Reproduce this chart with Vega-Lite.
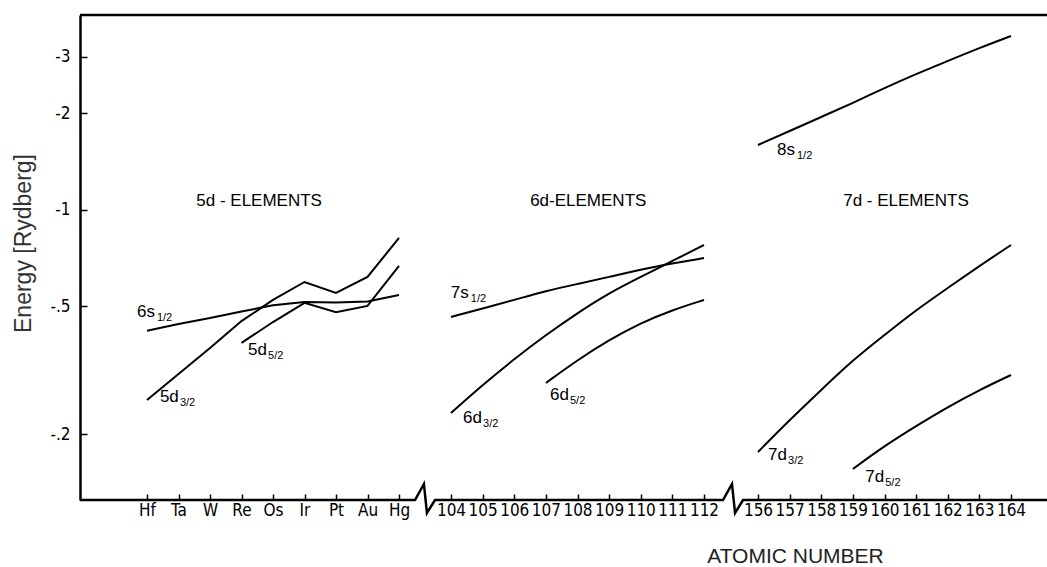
{
  "$schema": "https://vega.github.io/schema/vega-lite/v6.json",
  "width": 967,
  "height": 485,
  "autosize": {"type": "none"},
  "padding": {"left": 80, "top": 15, "right": 0, "bottom": 67},
  "background": "white",
  "config": {"view": {"stroke": null}, "font": "Liberation Sans"},
  "datasets": {
    "curves": [
      {"series": "6s1/2", "group": "5d", "Z": 72, "E": 0.420},
      {"series": "6s1/2", "group": "5d", "Z": 73, "E": 0.441},
      {"series": "6s1/2", "group": "5d", "Z": 74, "E": 0.460},
      {"series": "6s1/2", "group": "5d", "Z": 75, "E": 0.482},
      {"series": "6s1/2", "group": "5d", "Z": 76, "E": 0.504},
      {"series": "6s1/2", "group": "5d", "Z": 77, "E": 0.516},
      {"series": "6s1/2", "group": "5d", "Z": 78, "E": 0.514},
      {"series": "6s1/2", "group": "5d", "Z": 79, "E": 0.518},
      {"series": "6s1/2", "group": "5d", "Z": 80, "E": 0.543},
      {"series": "5d3/2", "group": "5d", "Z": 72, "E": 0.2554},
      {"series": "5d3/2", "group": "5d", "Z": 73, "E": 0.3078},
      {"series": "5d3/2", "group": "5d", "Z": 74, "E": 0.371},
      {"series": "5d3/2", "group": "5d", "Z": 75, "E": 0.450},
      {"series": "5d3/2", "group": "5d", "Z": 76, "E": 0.524},
      {"series": "5d3/2", "group": "5d", "Z": 77, "E": 0.596},
      {"series": "5d3/2", "group": "5d", "Z": 78, "E": 0.551},
      {"series": "5d3/2", "group": "5d", "Z": 79, "E": 0.618},
      {"series": "5d3/2", "group": "5d", "Z": 80, "E": 0.818},
      {"series": "5d5/2", "group": "5d", "Z": 75, "E": 0.385},
      {"series": "5d5/2", "group": "5d", "Z": 76, "E": 0.447},
      {"series": "5d5/2", "group": "5d", "Z": 77, "E": 0.513},
      {"series": "5d5/2", "group": "5d", "Z": 78, "E": 0.480},
      {"series": "5d5/2", "group": "5d", "Z": 79, "E": 0.502},
      {"series": "5d5/2", "group": "5d", "Z": 80, "E": 0.669},
      {"series": "7s1/2", "group": "6d", "Z": 104, "E": 0.4636},
      {"series": "7s1/2", "group": "6d", "Z": 105, "E": 0.4928},
      {"series": "7s1/2", "group": "6d", "Z": 106, "E": 0.5238},
      {"series": "7s1/2", "group": "6d", "Z": 107, "E": 0.5587},
      {"series": "7s1/2", "group": "6d", "Z": 108, "E": 0.5875},
      {"series": "7s1/2", "group": "6d", "Z": 109, "E": 0.618},
      {"series": "7s1/2", "group": "6d", "Z": 110, "E": 0.652},
      {"series": "7s1/2", "group": "6d", "Z": 111, "E": 0.681},
      {"series": "7s1/2", "group": "6d", "Z": 112, "E": 0.708},
      {"series": "6d3/2", "group": "6d", "Z": 104, "E": 0.2326},
      {"series": "6d3/2", "group": "6d", "Z": 105, "E": 0.2844},
      {"series": "6d3/2", "group": "6d", "Z": 106, "E": 0.3428},
      {"series": "6d3/2", "group": "6d", "Z": 107, "E": 0.4074},
      {"series": "6d3/2", "group": "6d", "Z": 108, "E": 0.477},
      {"series": "6d3/2", "group": "6d", "Z": 109, "E": 0.5508},
      {"series": "6d3/2", "group": "6d", "Z": 110, "E": 0.618},
      {"series": "6d3/2", "group": "6d", "Z": 111, "E": 0.693},
      {"series": "6d3/2", "group": "6d", "Z": 112, "E": 0.7774},
      {"series": "6d5/2", "group": "6d", "Z": 107, "E": 0.2886},
      {"series": "6d5/2", "group": "6d", "Z": 108, "E": 0.3404},
      {"series": "6d5/2", "group": "6d", "Z": 109, "E": 0.3930},
      {"series": "6d5/2", "group": "6d", "Z": 110, "E": 0.4441},
      {"series": "6d5/2", "group": "6d", "Z": 111, "E": 0.4875},
      {"series": "6d5/2", "group": "6d", "Z": 112, "E": 0.5238},
      {"series": "8s1/2", "group": "7d", "Z": 156, "E": 1.594},
      {"series": "8s1/2", "group": "7d", "Z": 157, "E": 1.763},
      {"series": "8s1/2", "group": "7d", "Z": 158, "E": 1.950},
      {"series": "8s1/2", "group": "7d", "Z": 159, "E": 2.156},
      {"series": "8s1/2", "group": "7d", "Z": 160, "E": 2.401},
      {"series": "8s1/2", "group": "7d", "Z": 161, "E": 2.656},
      {"series": "8s1/2", "group": "7d", "Z": 162, "E": 2.915},
      {"series": "8s1/2", "group": "7d", "Z": 163, "E": 3.201},
      {"series": "8s1/2", "group": "7d", "Z": 164, "E": 3.488},
      {"series": "7d3/2", "group": "7d", "Z": 156, "E": 0.1758},
      {"series": "7d3/2", "group": "7d", "Z": 157, "E": 0.2213},
      {"series": "7d3/2", "group": "7d", "Z": 158, "E": 0.2745},
      {"series": "7d3/2", "group": "7d", "Z": 159, "E": 0.3404},
      {"series": "7d3/2", "group": "7d", "Z": 160, "E": 0.4074},
      {"series": "7d3/2", "group": "7d", "Z": 161, "E": 0.4875},
      {"series": "7d3/2", "group": "7d", "Z": 162, "E": 0.5709},
      {"series": "7d3/2", "group": "7d", "Z": 163, "E": 0.6687},
      {"series": "7d3/2", "group": "7d", "Z": 164, "E": 0.7774},
      {"series": "7d5/2", "group": "7d", "Z": 159, "E": 0.1556},
      {"series": "7d5/2", "group": "7d", "Z": 160, "E": 0.1836},
      {"series": "7d5/2", "group": "7d", "Z": 161, "E": 0.2119},
      {"series": "7d5/2", "group": "7d", "Z": 162, "E": 0.2429},
      {"series": "7d5/2", "group": "7d", "Z": 163, "E": 0.2745},
      {"series": "7d5/2", "group": "7d", "Z": 164, "E": 0.3056}
    ],
    "labels": [
      {"Z": 71.68, "E": 0.4636, "main": "6s", "sub": "1/2"},
      {"Z": 72.41, "E": 0.2518, "main": "5d", "sub": "3/2"},
      {"Z": 75.21, "E": 0.3528, "main": "5d", "sub": "5/2"},
      {"Z": 103.91, "E": 0.5315, "main": "7s", "sub": "1/2"},
      {"Z": 104.38, "E": 0.2165, "main": "6d", "sub": "3/2"},
      {"Z": 107.13, "E": 0.2554, "main": "6d", "sub": "5/2"},
      {"Z": 156.6, "E": 1.484, "main": "8s", "sub": "1/2"},
      {"Z": 156.32, "E": 0.166, "main": "7d", "sub": "3/2"},
      {"Z": 159.39, "E": 0.1417, "main": "7d", "sub": "5/2"}
    ],
    "groups": [
      {"Z": 75.56, "E": 1.066, "text": "5d - ELEMENTS"},
      {"Z": 108.34, "E": 1.066, "text": "6d-ELEMENTS"},
      {"Z": 160.68, "E": 1.066, "text": "7d - ELEMENTS"}
    ],
    "frame": [
      {"part": "top", "Z": 69.87, "E": 4.056},
      {"part": "top", "Z": 165.14, "E": 4.056},
      {"part": "bottom", "Z": 69.87, "E": 0.1245},
      {"part": "bottom", "Z": 87.4, "E": 0.1245},
      {"part": "bottom", "Z": 91.5, "E": 0.1397},
      {"part": "bottom", "Z": 92.9, "E": 0.1134},
      {"part": "bottom", "Z": 96.6, "E": 0.1245},
      {"part": "bottom", "Z": 127.5, "E": 0.1245},
      {"part": "bottom", "Z": 134.8, "E": 0.1397},
      {"part": "bottom", "Z": 137.3, "E": 0.1134},
      {"part": "bottom", "Z": 143.8, "E": 0.1245},
      {"part": "bottom", "Z": 165.14, "E": 0.1245}
    ]
  },
  "encoding": {
    "x": {
      "field": "Z",
      "type": "quantitative",
      "scale": {
        "type": "linear",
        "domain": [69.87, 72, 80, 104, 112, 156, 164, 165.14],
        "range": [0, 67, 319, 371, 624, 678, 931, 967],
        "nice": false,
        "zero": false
      },
      "axis": {
        "values": [72, 73, 74, 75, 76, 77, 78, 79, 80, 104, 105, 106, 107, 108, 109, 110, 111, 112, 156, 157, 158, 159, 160, 161, 162, 163, 164],
        "labelExpr": "datum.value <= 80 ? ['Hf','Ta','W','Re','Os','Ir','Pt','Au','Hg'][datum.value - 72] : datum.label",
        "format": "d",
        "domain": false,
        "grid": false,
        "tickSize": -6,
        "tickColor": "black",
        "tickWidth": 1.5,
        "labelPadding": 8,
        "labelFont": "Liberation Sans Narrow, DejaVu Sans Condensed, Liberation Sans",
        "labelFontSize": 17,
        "labelColor": "black",
        "labelOverlap": false,
        "labelFlush": false,
        "title": "ATOMIC NUMBER",
        "titleX": 715,
        "titleY": 45,
        "titleAlign": "center",
        "titleBaseline": "top",
        "titleFont": "Liberation Sans",
        "titleFontSize": 21,
        "titleFontWeight": "normal",
        "titleColor": "#222222"
      }
    },
    "y": {
      "field": "E",
      "type": "quantitative",
      "scale": {"type": "log", "domain": [0.1245, 4.056], "nice": false},
      "axis": {
        "values": [0.2, 0.5, 1, 2, 3],
        "labelExpr": "datum.value < 1 ? '-' + substring(format(datum.value, '.1f'), 1) : '-' + format(datum.value, 'd')",
        "grid": false,
        "domain": true,
        "domainColor": "black",
        "domainWidth": 2.5,
        "tickSize": -7,
        "tickColor": "black",
        "tickWidth": 1.5,
        "labelPadding": 17,
        "labelFont": "Liberation Sans Narrow, DejaVu Sans Condensed, Liberation Sans",
        "labelFontSize": 17,
        "labelColor": "black",
        "labelOverlap": false,
        "title": "Energy [Rydberg]",
        "titleX": -57,
        "titleY": 228,
        "titleAngle": -90,
        "titleAlign": "center",
        "titleBaseline": "middle",
        "titleFont": "Liberation Sans",
        "titleFontSize": 23,
        "titleFontWeight": "normal",
        "titleColor": "#333333"
      }
    }
  },
  "layer": [
    {
      "data": {"name": "frame"},
      "mark": {"type": "line", "color": "black", "strokeWidth": 2.5, "clip": false},
      "encoding": {"detail": {"field": "part"}}
    },
    {
      "data": {"name": "curves"},
      "transform": [{"filter": "datum.group == '5d'"}],
      "mark": {"type": "line", "interpolate": "linear", "color": "black", "strokeWidth": 2},
      "encoding": {"detail": {"field": "series"}}
    },
    {
      "data": {"name": "curves"},
      "transform": [{"filter": "datum.group != '5d'"}],
      "mark": {"type": "line", "interpolate": "basis", "color": "black", "strokeWidth": 2},
      "encoding": {"detail": {"field": "series"}}
    },
    {
      "data": {"name": "labels"},
      "mark": {"type": "text", "align": "left", "baseline": "alphabetic", "fontSize": 17, "font": "Liberation Sans", "color": "black"},
      "encoding": {"text": {"field": "main"}}
    },
    {
      "data": {"name": "labels"},
      "mark": {"type": "text", "align": "left", "baseline": "alphabetic", "fontSize": 11, "font": "Liberation Sans", "color": "black", "dx": 20, "dy": 4},
      "encoding": {"text": {"field": "sub"}}
    },
    {
      "data": {"name": "groups"},
      "mark": {"type": "text", "align": "center", "baseline": "middle", "fontSize": 17, "font": "Liberation Sans", "color": "black"},
      "encoding": {"text": {"field": "text"}}
    }
  ]
}
